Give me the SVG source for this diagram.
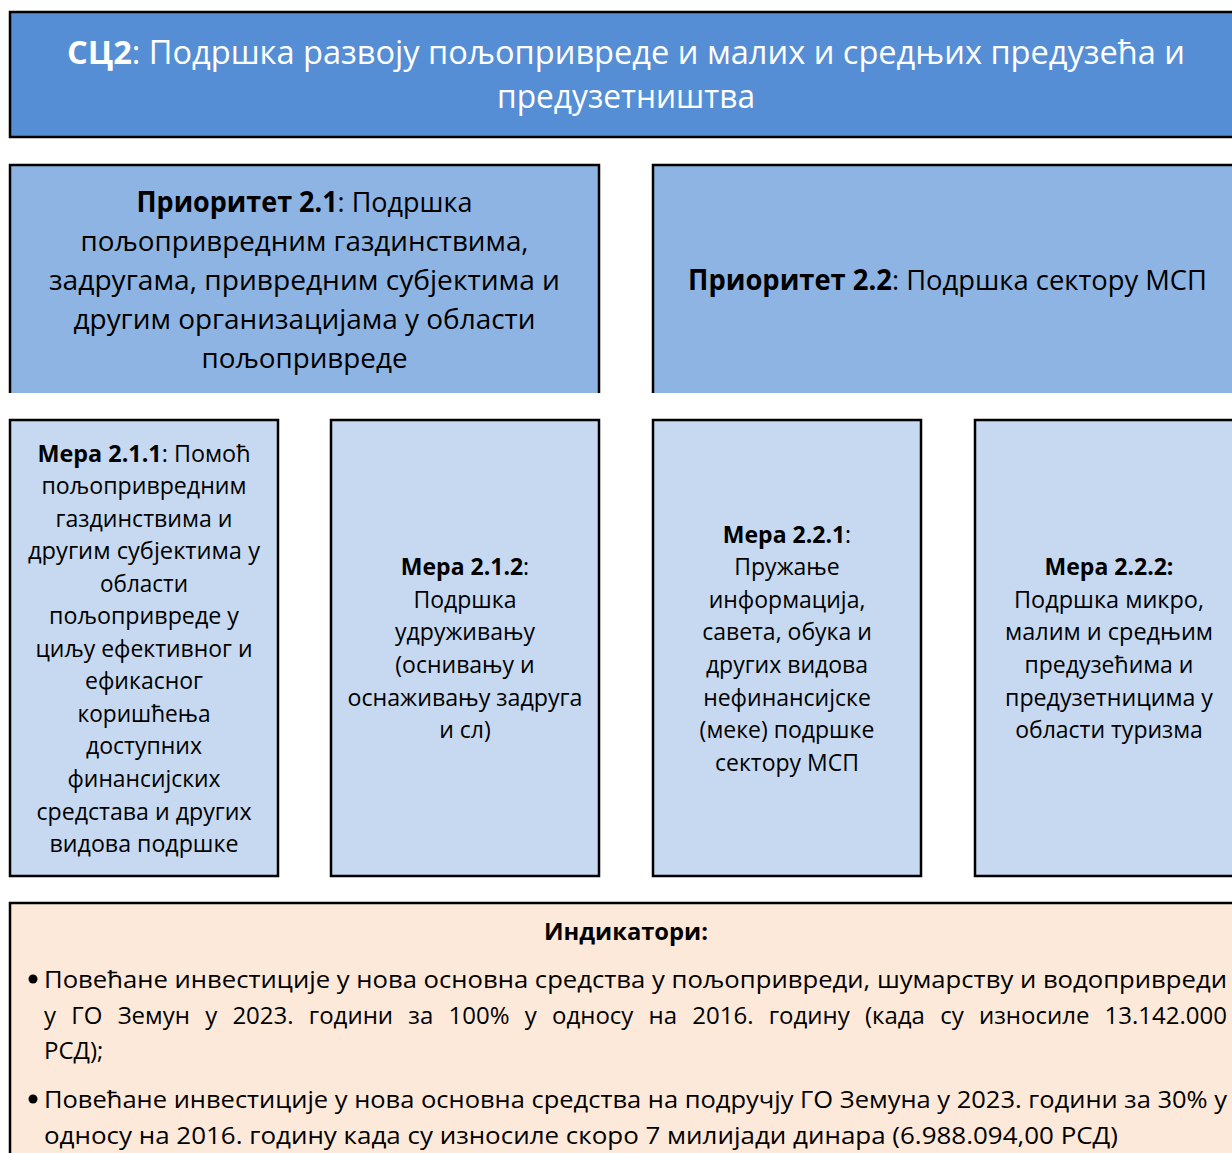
<svg xmlns="http://www.w3.org/2000/svg" width="1232" height="1153" viewBox="0 0 1232 1153">
<style>
text{font-family:"Open Sans","Noto Sans","DejaVu Sans",sans-serif;fill:#000;}
.b{font-weight:bold;}
.title{fill:#fff;font-size:33px;}
.title tspan{fill:#fff;}
.pri{font-size:28px;}
.mer{font-size:23px;}
.ind{font-size:24px;}
.edge{fill:none;stroke:#000;stroke-width:2.5;}
.c{text-anchor:middle;}
</style>
<g id="goal">
<rect x="10" y="12" width="1240" height="125" fill="#558ED5" stroke="#000" stroke-width="2.5"/>
<text class="title c" x="626" y="64" textLength="1118" lengthAdjust="spacingAndGlyphs"><tspan class="b">СЦ2</tspan>: Подршка развоју пољопривреде и малих и средњих предузећа и</text>
<text class="title c" x="626" y="108" textLength="258" lengthAdjust="spacingAndGlyphs">предузетништва</text>
</g>
<g id="priority-2-1">
<rect x="10" y="165" width="589" height="228" fill="#8EB4E3"/>
<path class="edge" d="M10,393 V165 H599 V393"/>
<g class="pri c">
<text x="304.5" y="212" textLength="336" lengthAdjust="spacingAndGlyphs"><tspan class="b">Приоритет 2.1</tspan>: Подршка</text>
<text x="304.5" y="251" textLength="448" lengthAdjust="spacingAndGlyphs">пољопривредним газдинствима,</text>
<text x="304.5" y="290" textLength="511" lengthAdjust="spacingAndGlyphs">задругама, привредним субјектима и</text>
<text x="304.5" y="329" textLength="462" lengthAdjust="spacingAndGlyphs">другим организацијама у области</text>
<text x="304.5" y="368" textLength="206" lengthAdjust="spacingAndGlyphs">пољопривреде</text>
</g>
</g>
<g id="priority-2-2">
<rect x="653" y="165" width="600" height="228" fill="#8EB4E3"/>
<path class="edge" d="M653,393 V165 H1240"/>
<text class="pri c" x="947.5" y="290" textLength="519" lengthAdjust="spacingAndGlyphs"><tspan class="b">Приоритет 2.2</tspan>: Подршка сектору МСП</text>
</g>
<g id="measure-2-1-1">
<rect x="10" y="420" width="268" height="456" fill="#C6D9F1" stroke="#000" stroke-width="2.5"/>
<g class="mer c">
<text x="144" y="462" textLength="213" lengthAdjust="spacingAndGlyphs"><tspan class="b">Мера 2.1.1</tspan>: Помоћ</text>
<text x="144" y="494" textLength="205" lengthAdjust="spacingAndGlyphs">пољопривредним</text>
<text x="144" y="527" textLength="177" lengthAdjust="spacingAndGlyphs">газдинствима и</text>
<text x="144" y="559" textLength="232" lengthAdjust="spacingAndGlyphs">другим субјектима у</text>
<text x="144" y="592" textLength="88" lengthAdjust="spacingAndGlyphs">области</text>
<text x="144" y="624" textLength="190" lengthAdjust="spacingAndGlyphs">пољопривреде у</text>
<text x="144" y="657" textLength="217" lengthAdjust="spacingAndGlyphs">циљу ефективног и</text>
<text x="144" y="689" textLength="118" lengthAdjust="spacingAndGlyphs">ефикасног</text>
<text x="144" y="722" textLength="133" lengthAdjust="spacingAndGlyphs">коришћења</text>
<text x="144" y="754" textLength="116" lengthAdjust="spacingAndGlyphs">доступних</text>
<text x="144" y="787" textLength="153" lengthAdjust="spacingAndGlyphs">финансијских</text>
<text x="144" y="820" textLength="215" lengthAdjust="spacingAndGlyphs">средстава и других</text>
<text x="144" y="852" textLength="189" lengthAdjust="spacingAndGlyphs">видова подршке</text>
</g>
</g>
<g id="measure-2-1-2">
<rect x="331" y="420" width="268" height="456" fill="#C6D9F1" stroke="#000" stroke-width="2.5"/>
<g class="mer c">
<text x="465" y="575"><tspan class="b">Мера 2.1.2</tspan>:</text>
<text x="465" y="608">Подршка</text>
<text x="465" y="640">удруживању</text>
<text x="465" y="673">(оснивању и</text>
<text x="465" y="706" textLength="235" lengthAdjust="spacingAndGlyphs">оснаживању задруга</text>
<text x="465" y="738">и сл)</text>
</g>
</g>
<g id="measure-2-2-1">
<rect x="653" y="420" width="268" height="456" fill="#C6D9F1" stroke="#000" stroke-width="2.5"/>
<g class="mer c">
<text x="787" y="543"><tspan class="b">Мера 2.2.1</tspan>:</text>
<text x="787" y="575">Пружање</text>
<text x="787" y="608">информација,</text>
<text x="787" y="640">савета, обука и</text>
<text x="787" y="673">других видова</text>
<text x="787" y="706">нефинансијске</text>
<text x="787" y="738">(меке) подршке</text>
<text x="787" y="771">сектору МСП</text>
</g>
</g>
<g id="measure-2-2-2">
<rect x="975" y="420" width="280" height="456" fill="#C6D9F1"/>
<path class="edge" d="M1240,420 H975 V876 H1240"/>
<g class="mer c">
<text x="1109" y="575" class="b">Мера 2.2.2:</text>
<text x="1109" y="608" textLength="190" lengthAdjust="spacingAndGlyphs">Подршка микро,</text>
<text x="1109" y="640" textLength="208" lengthAdjust="spacingAndGlyphs">малим и средњим</text>
<text x="1109" y="673">предузећима и</text>
<text x="1109" y="706" textLength="208" lengthAdjust="spacingAndGlyphs">предузетницима у</text>
<text x="1109" y="738">области туризма</text>
</g>
</g>
<g id="indicators">
<rect x="10" y="903" width="1240" height="260" fill="#FDE9D9"/>
<path class="edge" d="M10,1160 V903 H1240"/>
<text class="ind c b" x="626" y="940" textLength="164" lengthAdjust="spacingAndGlyphs">Индикатори:</text>
<circle cx="33" cy="979" r="4.5" fill="#000"/>
<text class="ind" x="44" y="988" textLength="1183" lengthAdjust="spacingAndGlyphs">Повећане инвестиције у нова основна средства у пољопривреди, шумарству и водопривреди</text>
<text class="ind" x="44" y="1024" textLength="1183" lengthAdjust="spacingAndGlyphs" word-spacing="9">у ГО Земун у 2023. години за 100% у односу на 2016. годину (када су износиле 13.142.000</text>
<text class="ind" x="44" y="1059">РСД);</text>
<circle cx="33" cy="1099" r="4.5" fill="#000"/>
<text class="ind" x="44" y="1108" textLength="1183" lengthAdjust="spacingAndGlyphs">Повећане инвестиције у нова основна средства на подручју ГО Земуна у 2023. години за 30% у</text>
<text class="ind" x="44" y="1144" textLength="1074" lengthAdjust="spacingAndGlyphs">односу на 2016. годину када су износиле скоро 7 милијади динара (6.988.094,00 РСД)</text>
</g>
<g id="connectors"></g>
</svg>
